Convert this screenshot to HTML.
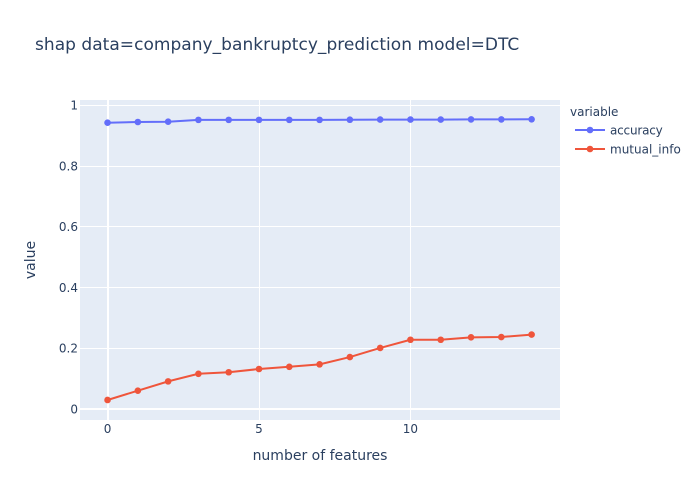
<!DOCTYPE html>
<html>
<head>
<meta charset="utf-8">
<title>shap data=company_bankruptcy_prediction model=DTC</title>
<style>
html,body{margin:0;padding:0;background:#fff;}
svg{display:block;}
text{font-family:"DejaVu Sans","Liberation Sans",sans-serif;fill:#2a3f5f;}
</style>
</head>
<body>
<svg id="chart" xmlns="http://www.w3.org/2000/svg" width="700" height="500" viewBox="0 0 700 500">
  <rect x="0" y="0" width="700" height="500" fill="#ffffff"/>
  <rect x="80" y="100" width="480" height="320" fill="#E5ECF6"/>
  <g id="grid"></g>
  <g id="zero"></g>
  <g id="series"></g>
  <g id="xticks"></g>
  <g id="yticks"></g>
  <text x="35" y="50" font-size="17" letter-spacing="0.03">shap data=company_bankruptcy_prediction model=DTC</text>
  <text x="320" y="460" font-size="14" text-anchor="middle">number of features</text>
  <text x="35" y="260" font-size="14" text-anchor="middle" transform="rotate(-90 35 260)">value</text>
  <g>
    <text x="570" y="116" font-size="12">variable</text>
    <g>
      <line x1="575" y1="130" x2="605" y2="130" stroke="#636efa" stroke-width="2"/>
      <circle cx="590" cy="130" r="3.3" fill="#636efa"/>
      <text x="610" y="134.5" font-size="12" letter-spacing="-0.2">accuracy</text>
    </g>
    <g>
      <line x1="575" y1="149" x2="605" y2="149" stroke="#EF553B" stroke-width="2"/>
      <circle cx="590" cy="149" r="3.3" fill="#EF553B"/>
      <text x="610" y="153.5" font-size="12">mutual_info</text>
    </g>
  </g>
</svg>
<script>
const features = [0,1,2,3,4,5,6,7,8,9,10,11,12,13,14];
const accuracy = [0.9417,0.944,0.945,0.951,0.951,0.951,0.951,0.951,0.9515,0.952,0.952,0.952,0.9525,0.9525,0.953];
const mutualInfo = [0.0287,0.0593,0.09,0.115,0.12,0.1307,0.138,0.146,0.17,0.2,0.227,0.227,0.235,0.236,0.244];
const xTickValues = [0,5,10];
const yTickValues = [0,0.2,0.4,0.6,0.8,1];
const xTickLabels = ['0','5','10'];
const yTickLabels = ['0','0.2','0.4','0.6','0.8','1'];

const NS = 'http://www.w3.org/2000/svg';
function xScale(v){ return 107.55 + v * 30.29; }
function yScale(v){ return 408.7 - v * 303.7; }
function crisp(p, isZero){ return isZero ? Math.round(p) : Math.round(p) + 0.5; }
function make(tag, parent, attrs){
  const el = document.createElementNS(NS, tag);
  for (const k in attrs) el.setAttribute(k, attrs[k]);
  parent.appendChild(el);
  return el;
}
const grid = document.getElementById('grid');
const zero = document.getElementById('zero');
const seriesGroup = document.getElementById('series');
const xticks = document.getElementById('xticks');
const yticks = document.getElementById('yticks');

xTickValues.forEach(function(v, i){
  const x = xScale(v);
  const lx = crisp(x, v === 0);
  const line = make('line', v === 0 ? zero : grid, {x1:lx, x2:lx, y1:100, y2:420, stroke:'#ffffff', 'stroke-width': v === 0 ? 2 : 1});
  
  
  const label = make('text', xticks, {x:x, y:433, 'font-size':12, 'text-anchor':'middle'});
  label.textContent = xTickLabels[i];
  
  
});
yTickValues.forEach(function(v, i){
  const y = yScale(v);
  const ly = crisp(y, v === 0);
  const line = make('line', v === 0 ? zero : grid, {x1:80, x2:560, y1:ly, y2:ly, stroke:'#ffffff', 'stroke-width': v === 0 ? 2 : 1});
  
  
  const label = make('text', yticks, {x:78, y:y + 4.6, 'font-size':12, 'text-anchor':'end'});
  label.textContent = yTickLabels[i];
  
  
});
function drawSeries(values, color, name){
  const pts = values.map(function(v, i){ return xScale(features[i]) + ',' + yScale(v); }).join(' ');
  const line = make('polyline', seriesGroup, {points:pts, fill:'none', stroke:color, 'stroke-width':2, 'stroke-linejoin':'round'});
  
  
  values.forEach(function(v, i){
    const c = make('circle', seriesGroup, {cx:xScale(features[i]), cy:yScale(v), r:3.3, fill:color});
    
    
  });
}
drawSeries(accuracy, '#636efa', 'accuracy');
drawSeries(mutualInfo, '#EF553B', 'mutual-info');
</script>
</body>
</html>
